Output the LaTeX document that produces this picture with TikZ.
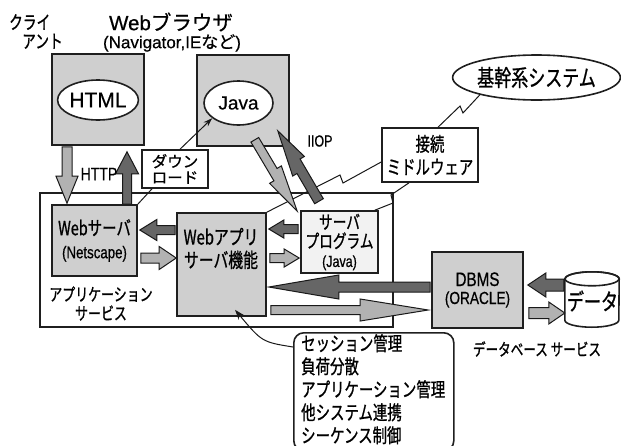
\documentclass[tikz,border=0pt]{standalone}
\usepackage{fontspec}
\setmainfont{Liberation Sans}[FakeBold=0.5]
\newfontfamily\jpn[FakeBold=0.7]{Noto Sans CJK JP}
\newfontfamily\jpc[FakeStretch=0.74,FakeBold=0.9]{Noto Sans CJK JP}
\newfontfamily\latc[FakeStretch=0.78,FakeBold=0.6]{Liberation Sans}
\usetikzlibrary{calc,shapes.geometric,arrows.meta}

\newcommand\fsz[1]{\fontsize{#1}{#1}\selectfont}

% block arrow: style, tail, tip, half shaft width, half head width, head length
\newcommand\blockarrow[6]{%
  \coordinate (ba-b) at ($(#3)!#6!(#2)$);
  \path[#1] ($(#2)!#4!90:(#3)$) -- ($(ba-b)!#4!90:(#3)$) -- ($(ba-b)!#5!90:(#3)$)
    -- (#3) -- ($(ba-b)!#5!-90:(#3)$) -- ($(ba-b)!#4!-90:(#3)$)
    -- ($(#2)!#4!-90:(#3)$) -- cycle;
}
% network arrow with staggered barbs: style, tail, tip, half shaft, half head, barb 1, barb 2
\newcommand\boltarrow[7]{%
  \coordinate (bo-p) at ($(#2)!#6!(#3)$);
  \coordinate (bo-q) at ($(#2)!#7!(#3)$);
  \path[#1] ($(#2)!#4!90:(#3)$) -- ($(bo-q)!#4!90:(#3)$) -- ($(bo-q)!#5!90:(#3)$)
    -- (#3) -- ($(bo-p)!#5!-90:(#3)$) -- ($(bo-p)!#4!-90:(#3)$)
    -- ($(#2)!#4!-90:(#3)$) -- cycle;
}

\begin{document}
\begin{tikzpicture}[x=1pt,y=-1pt,
  frame/.style={draw=black!88,line width=1.6pt,inner sep=0pt},
  shade/.style={frame,fill=black!19},
  pale/.style={frame,fill=black!5},
  plain/.style={frame,fill=white},
  oval/.style={frame,fill=white,ellipse},
  lbl/.style={inner sep=0pt,align=center},
  thin/.style={draw=black!90,line width=1pt},
  lite/.style={draw=black!90,line width=1pt,line join=miter,fill=black!30},
  dark/.style={draw=black!90,line width=1pt,line join=miter,fill=black!60},
]
\useasboundingbox (0,0) rectangle (621,445);
\clip (0,0) rectangle (621,445);
\fill[white] (0,0) rectangle (621,445);

% application service frame
\node[plain,minimum width=353,minimum height=134] (app) at (216.5,260) {};

% client side
\node[shade,minimum width=92,minimum height=91] (cl1) at (98,99.5) {};
\node[oval,minimum width=78,minimum height=40] (htmlE) at (98,100) {\fsz{21}HTML};
\node[shade,minimum width=92,minimum height=91] (cl2) at (243,100.5) {};
\node[oval,minimum width=69,minimum height=44] (javaE) at (238.5,103) {\fsz{19}Java};

% servers
\node[shade,minimum width=85,minimum height=71,align=center,
      font=\jpc\fontsize{19.5}{23}\selectfont] (ws) at (94.5,240.5)
      {Webサーバ\\{\latc\fsz{17}(Netscape)}};
\node[shade,minimum width=89,minimum height=103] (wa) at (221.5,264.5) {};
\node[lbl,font=\jpc\fontsize{20}{23}\selectfont] (waT) at (221,248.5) {Webアプリ\\サーバ機能};
\node[pale,minimum width=77,minimum height=62,align=center,
      font=\jpc\fontsize{18.5}{19}\selectfont] (sp) at (339.5,242)
      {サーバ\\プログラム\\{\latc\fsz{16}(Java)}};

\node[plain,minimum width=66,minimum height=38,align=center,
      font=\jpn\fontsize{15.5}{16}\selectfont] (dl) at (175,169) {ダウン\\ロード};
\node[plain,minimum width=96,minimum height=54,align=center,
      font=\jpc\fontsize{19.5}{23}\selectfont] (mw) at (430,155) {接続\\ミドルウェア};
\node[oval,minimum width=163,minimum height=45,
      font=\jpc\fontsize{23}{23}\selectfont] (core) at (536.5,77.5) {基幹系システム};

% database service
\node[shade,minimum width=91,minimum height=76,align=center,
      font=\latc\fontsize{19.5}{18}\selectfont] (db) at (477.5,290) {DBMS\\{\fsz{17.5}(ORACLE)}};
\node[inner sep=0pt,minimum width=54,minimum height=55] (data) at (592,299.5) {};
\path[frame,fill=white] ($(data.north west)+(0,7)$) -- ($(data.south west)+(0,-7)$)
   arc[start angle=180,end angle=0,x radius=27,y radius=7]
   -- ($(data.north east)+(0,7)$) arc[start angle=0,end angle=-180,x radius=27,y radius=7]
   -- cycle;
\draw[frame] ($(data.north)+(0,7)$) ellipse[x radius=27,y radius=7];
\node[font=\jpc\fontsize{23}{23}\selectfont,inner sep=0pt] (dataT) at (592.5,301) {データ};

% functions of the application server
\node[frame,fill=white,rounded corners=10pt,minimum width=160,minimum height=118,
      anchor=north west] (memo) at (293,332) {};
\node[anchor=north west,inner sep=0pt,align=left,font=\jpc\fontsize{19.5}{23}\selectfont]
      (memoT) at (301,334)
      {セッション管理\\負荷分散\\アプリケーション管理\\他システム連携\\シーケンス制御};

% plain connectors
\draw[thin,-{Stealth[length=9pt,width=6pt]}] ([xshift=5pt]dl.north) -- (javaE.210);
\draw[thin] ([xshift=-23pt]dl.south) -- (ws.north east);
\draw[thin] (wa.north east) -- (340,175) -- (343,183) -- ([yshift=-7pt]mw.west);
\draw[thin] ([xshift=-21pt]mw.south) -- (391,195) -- (393,203) -- ([xshift=-4pt]sp.north east);
\draw[thin] ([xshift=8pt]mw.north) -- (460,106) -- (463,113) -- (core.197);
\draw[thin,-{Stealth[length=10pt,width=7pt]}] ([yshift=-15pt]memo.north west)
      .. controls (262,342) .. ($(wa.south)+(13.5,-7)$);

% block arrow end points
\coordinate (httpA) at ($(cl1.south)+(-31,1)$);
\coordinate (httpB) at ($(ws.north)+(-27.5,-1)$);
\coordinate (upA) at ($(ws.north)+(32.5,0)$);
\coordinate (upB) at ($(cl1.south)+(29,6)$);
\coordinate (r1A) at ($(wa.west)+(-1,-34.5)$);
\coordinate (r1B) at ($(ws.east)+(2,-10.5)$);
\coordinate (r2A) at ($(ws.east)+(3,17.5)$);
\coordinate (r2B) at ($(wa.west)+(0,-6.5)$);
\coordinate (s1A) at ($(sp.west)+(-2,-13)$);
\coordinate (s1B) at ($(wa.east)+(2,-35.5)$);
\coordinate (s2A) at ($(wa.east)+(3,-6.5)$);
\coordinate (s2B) at ($(sp.west)+(-1,16)$);
\coordinate (d1A) at ($(db.west)+(-1,-3)$);
\coordinate (d1B) at ($(wa.east)+(2,22.5)$);
\coordinate (d2A) at ($(wa.east)+(4,45.5)$);
\coordinate (d2B) at ($(db.west)+(-3,20)$);
\coordinate (e1A) at ($(data.west)+(-1,-14.5)$);
\coordinate (e1B) at ($(db.east)+(4,-5)$);
\coordinate (e2A) at ($(db.east)+(5,23)$);
\coordinate (e2B) at ($(data.west)+(0,13.5)$);
\coordinate (iA) at ($(cl2.south east)+(-35,-7)$);
\coordinate (iB) at ($(sp.north west)+(-3,1)$);
\coordinate (jA) at ($(sp.north)+(-20.5,-9)$);
\coordinate (jB) at ($(cl2.south east)+(-12,-16)$);

\blockarrow{lite}{httpA}{httpB}{5pt}{11pt}{27pt}
\blockarrow{dark}{upA}{upB}{4.5pt}{11.5pt}{22pt}
\blockarrow{dark}{r1A}{r1B}{4.5pt}{10.5pt}{17pt}
\blockarrow{lite}{r2A}{r2B}{5pt}{11.5pt}{17pt}
\blockarrow{dark}{s1A}{s1B}{4.5pt}{9pt}{15pt}
\blockarrow{lite}{s2A}{s2B}{4.5pt}{9pt}{15pt}
\blockarrow{dark}{d1A}{d1B}{5pt}{12pt}{70pt}
\blockarrow{lite}{d2A}{d2B}{4.5pt}{11pt}{68pt}
\blockarrow{dark}{e1A}{e1B}{6pt}{12pt}{18pt}
\blockarrow{lite}{e2A}{e2B}{5.5pt}{11pt}{16pt}
\boltarrow{lite}{iA}{iB}{4.5pt}{9.5pt}{45pt}{36pt}
\boltarrow{dark}{jA}{jB}{5pt}{10pt}{46pt}{35pt}

% labels
\node[lbl,anchor=west,align=left,font=\jpc\fontsize{18.5}{19}\selectfont] (cli) at (9,31.5)
      {クライ\\\hspace*{13pt}アント};
\node[font=\fontsize{20.5}{20}\selectfont,inner sep=0pt] (brw) at (171,22) {Web{\jpn ブラウザ}};
\node[font=\fontsize{17}{17}\selectfont,inner sep=0pt] (brw2) at (172,43) {(Navigator,IE{\jpn など})};
\node[font=\latc\fontsize{18}{18}\selectfont,inner sep=0pt] (httpT) at (99,174) {HTTP};
\node[font=\latc\fontsize{16}{16}\selectfont,inner sep=0pt] (iiopT) at (320,141) {IIOP};
\node[lbl,font=\jpc\fontsize{17.5}{19}\selectfont] (appT) at (101,303.5) {アプリケーション\\サービス};
\node[font=\jpc\fontsize{17}{17}\selectfont,inner sep=0pt] (dbT) at (537,349) {データベース サービス};
\end{tikzpicture}
\end{document}
